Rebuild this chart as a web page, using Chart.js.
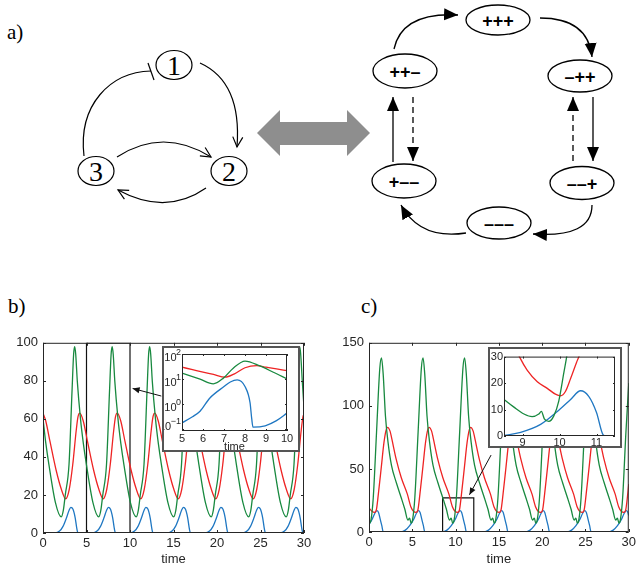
<!DOCTYPE html>
<html>
<head>
<meta charset="utf-8">
<script src="https://cdn.jsdelivr.net/npm/chart.js@4.4.1/dist/chart.umd.min.js"></script>
<style>
  body { margin: 0; background: #fff; }
  #page { position: relative; width: 639px; height: 567px; overflow: hidden; background: #fff; }
  #page > svg, #page > canvas { position: absolute; left: 0; top: 0; }
  .inset { position: absolute; box-sizing: border-box; border: 2px solid #555; background: #fff; }
  .inset canvas { position: absolute; left: 0; top: 0; }
</style>
</head>
<body>
<div id="page">
  <!-- panel a: network and state diagram -->
  <svg width="639" height="330" font-family="'Liberation Serif', 'Times New Roman', serif">
    <defs>
      <marker id="open" markerWidth="13" markerHeight="13" refX="11" refY="6" orient="auto" markerUnits="userSpaceOnUse">
        <path d="M1,1 L11,6 L1,11" fill="none" stroke="#000" stroke-width="1.2"/>
      </marker>
      <marker id="solid" markerWidth="15" markerHeight="13" refX="14" refY="6" orient="auto" markerUnits="userSpaceOnUse">
        <path d="M0,0 L14,6 L0,12 Z" fill="#000"/>
      </marker>
    </defs>
    <text x="7" y="39" font-size="21">a)</text>
    <text x="8" y="313" font-size="21">b)</text>
    <text x="361" y="313" font-size="21">c)</text>

    <g fill="none" stroke="#000" stroke-width="1.2">
      <ellipse cx="174" cy="65" rx="18" ry="14.5"/>
      <ellipse cx="229" cy="171" rx="18" ry="14.5"/>
      <ellipse cx="96" cy="171" rx="18" ry="14.5"/>
      <path d="M200,63 Q242,82 237,147" marker-end="url(#open)"/>
      <path d="M84,156 C78,105 110,72 151,71"/>
      <path d="M148,63 L154,80"/>
      <path d="M117,157 Q163,127 211,157" marker-end="url(#open)"/>
      <path d="M206,188 Q166,216 118,190" marker-end="url(#open)"/>
    </g>
    <g font-size="28" text-anchor="middle">
      <text x="174" y="74.5">1</text>
      <text x="229" y="180.5">2</text>
      <text x="96" y="180.5">3</text>
    </g>

    <polygon points="257,133 280,110 280,122 347,122 347,110 370,133 347,156 347,145 280,145 280,156" fill="#8e8e8e"/>

    <g fill="none" stroke="#000" stroke-width="1.3">
      <ellipse cx="498" cy="20" rx="32" ry="15"/>
      <ellipse cx="580" cy="76" rx="32" ry="16"/>
      <ellipse cx="582" cy="183" rx="32" ry="16.5"/>
      <ellipse cx="499" cy="223" rx="32" ry="16"/>
      <ellipse cx="404" cy="181" rx="32" ry="17"/>
      <ellipse cx="405" cy="71" rx="32" ry="17"/>
      <path d="M394,49 Q402,12 458,15" marker-end="url(#solid)"/>
      <path d="M540,18 Q588,18 592,57" marker-end="url(#solid)"/>
      <path d="M593,97 L593,161" marker-end="url(#solid)"/>
      <path d="M573,161 L573,97" stroke-dasharray="6,4" marker-end="url(#solid)"/>
      <path d="M592,205 Q592,238 533,234" marker-end="url(#solid)"/>
      <path d="M466,233 Q420,240 401,205" marker-end="url(#solid)"/>
      <path d="M393,162 L393,97" marker-end="url(#solid)"/>
      <path d="M413,97 L413,161" stroke-dasharray="6,4" marker-end="url(#solid)"/>
    </g>
    <g font-family="'Liberation Sans', Arial, sans-serif" font-size="18" font-weight="bold" text-anchor="middle">
      <text x="498" y="26.5">+++</text>
      <text x="580" y="82.5">–++</text>
      <text x="582" y="189.5">––+</text>
      <text x="499" y="229.5">–––</text>
      <text x="404" y="187.5">+––</text>
      <text x="405" y="77.5">++–</text>
    </g>
  </svg>

  <canvas id="chartB" width="320" height="237" style="left:0;top:330px"></canvas>
  <canvas id="chartC" width="317" height="237" style="left:322px;top:330px"></canvas>
  <div class="inset" style="left:162px;top:346px;width:138px;height:106px">
    <canvas id="insetB" width="134" height="102"></canvas>
  </div>
  <div class="inset" style="left:488px;top:347px;width:134px;height:101px">
    <canvas id="insetC" width="130" height="97"></canvas>
  </div>
</div>

<script>
// colours of the three variables
const GREEN = '#18893f';
const RED = '#ee2424';
const BLUE = '#1f77c2';

// panel b: [time, value] points
const bGreen = [[0,60],[0.33,47],[0.68,36],[1.43,16],[2.10,8.5],[2.34,12],[2.56,20],[2.99,36],[3.34,75],[3.52,94],[3.64,98],[3.76,94],[3.94,80],[4.31,60],[4.64,47],[4.99,36],[5.74,16],
  [6.41,8.5],[6.65,12],[6.87,20],[7.30,36],[7.65,75],[7.83,94],[7.95,98],[8.07,94],[8.25,80],[8.62,60],[8.95,47],[9.30,36],[10.05,16],
  [10.72,8.5],[10.96,12],[11.18,20],[11.61,36],[11.96,75],[12.14,94],[12.26,98],[12.38,94],[12.56,80],[12.93,60],[13.26,47],[13.61,36],[14.36,16],
  [15.03,8.5],[15.27,12],[15.49,20],[15.92,36],[16.27,75],[16.45,94],[16.57,98],[16.69,94],[16.87,80],[17.24,60],[17.57,47],[17.92,36],[18.67,16],
  [19.34,8.5],[19.58,12],[19.80,20],[20.23,36],[20.58,75],[20.76,94],[20.88,98],[21.00,94],[21.18,80],[21.55,60],[21.88,47],[22.23,36],[22.98,16],
  [23.65,8.5],[23.89,12],[24.11,20],[24.54,36],[24.89,75],[25.07,94],[25.19,98],[25.31,94],[25.49,80],[25.86,60],[26.19,47],[26.54,36],[27.29,16],
  [27.96,8.5],[28.20,12],[28.42,20],[28.85,36],[29.20,75],[29.38,94],[29.50,98],[29.62,94],[29.80,80],[30,66]];
const bRed = [[0,63],[0.31,59],[0.81,48],[1.51,33],[2.11,23],[2.61,18],[3.02,23],[3.42,36],[3.82,54],[4.02,61],[4.22,63],[4.62,59],[5.12,48],[5.82,33],[6.42,23],[6.92,18],
  [7.33,23],[7.73,36],[8.13,54],[8.33,61],[8.53,63],[8.93,59],[9.43,48],[10.13,33],[10.73,23],[11.23,18],
  [11.64,23],[12.04,36],[12.44,54],[12.64,61],[12.84,63],[13.24,59],[13.74,48],[14.44,33],[15.04,23],[15.54,18],
  [15.95,23],[16.35,36],[16.75,54],[16.95,61],[17.15,63],[17.55,59],[18.05,48],[18.75,33],[19.35,23],[19.85,18],
  [20.26,23],[20.66,36],[21.06,54],[21.26,61],[21.46,63],[21.86,59],[22.36,48],[23.06,33],[23.66,23],[24.16,18],
  [24.57,23],[24.97,36],[25.37,54],[25.57,61],[25.77,63],[26.17,59],[26.67,48],[27.37,33],[27.97,23],[28.47,18],
  [28.88,23],[29.28,36],[29.68,54],[29.88,61],[30,62.5]];
const bBlue = [[0,0],[1.4,0],[1.9,1],[2.3,3.5],[2.7,8],[3.0,12],[3.2,13.5],[3.45,12.5],[3.7,8],[3.9,2],[4.02,0],
  [5.71,0],[6.21,1],[6.61,3.5],[7.01,8],[7.31,12],[7.51,13.5],[7.76,12.5],[8.01,8],[8.21,2],[8.33,0],
  [10.02,0],[10.52,1],[10.92,3.5],[11.32,8],[11.62,12],[11.82,13.5],[12.07,12.5],[12.32,8],[12.52,2],[12.64,0],
  [14.33,0],[14.83,1],[15.23,3.5],[15.63,8],[15.93,12],[16.13,13.5],[16.38,12.5],[16.63,8],[16.83,2],[16.95,0],
  [18.64,0],[19.14,1],[19.54,3.5],[19.94,8],[20.24,12],[20.44,13.5],[20.69,12.5],[20.94,8],[21.14,2],[21.26,0],
  [22.95,0],[23.45,1],[23.85,3.5],[24.25,8],[24.55,12],[24.75,13.5],[25.0,12.5],[25.25,8],[25.45,2],[25.57,0],
  [27.26,0],[27.76,1],[28.16,3.5],[28.56,8],[28.86,12],[29.06,13.5],[29.31,12.5],[29.56,8],[29.76,2],[29.88,0],[30,0]];
const bZoomBox = [[5,0],[5,100],[10,100],[10,0],[5,0]];
const bArrow = { from: [13.6, 72], to: [10.3, 76] };
const bYTicks = [0, 20, 40, 60, 80, 100];

// panel b inset (log scale)
const bInsetGreen = [[5,17],[5.86,9.7],[6.49,6.3],[6.97,10.7],[7.44,27],[8.0,52],[8.71,33],[9.35,18.5],[10,10]];
const bInsetRed = [[5,29.5],[5.5,23.5],[6,18.7],[6.5,15],[7.05,11.7],[7.5,16],[8,28],[8.56,34],[9,29.5],[9.5,25],[10,21.5]];
const bInsetBlue = [[5,0.17],[5.5,0.3],[5.86,0.5],[6.33,1.7],[7,4.9],[7.3,7.5],[7.63,9.1],[8,4.9],[8.24,1.1],[8.32,0.25],[8.38,0.115],[8.96,0.13],[9.5,0.21],[10,0.42]];
const bInsetYTicks = [0.1, 1, 10, 100];

// panel c
const cGreen = [[0,8],[0.06,7],[0.24,10],[0.49,27],[0.87,79],[1.25,130],[1.44,138],[1.64,125],[1.9,92],[2.2,71],[2.59,53],[3.16,39],[3.73,27],[4.14,18],
  [4.49,9.5],[4.69,11],[4.86,7],[5.04,10],[5.29,27],[5.67,79],[6.05,130],[6.24,138],[6.44,125],[6.70,92],[7.0,71],[7.39,53],[7.96,39],[8.53,27],[8.94,18],
  [9.29,9.5],[9.49,11],[9.66,7],[9.84,10],[10.09,27],[10.47,79],[10.85,130],[11.04,138],[11.24,125],[11.5,92],[11.8,71],[12.19,53],[12.76,39],[13.33,27],[13.74,18],
  [14.09,9.5],[14.29,11],[14.46,7],[14.64,10],[14.89,27],[15.27,79],[15.65,130],[15.84,138],[16.04,125],[16.3,92],[16.6,71],[16.99,53],[17.56,39],[18.13,27],[18.54,18],
  [18.89,9.5],[19.09,11],[19.26,7],[19.44,10],[19.69,27],[20.07,79],[20.45,130],[20.64,138],[20.84,125],[21.1,92],[21.4,71],[21.79,53],[22.36,39],[22.93,27],[23.34,18],
  [23.69,9.5],[23.89,11],[24.06,7],[24.24,10],[24.49,27],[24.87,79],[25.25,130],[25.44,138],[25.64,125],[25.9,92],[26.2,71],[26.59,53],[27.16,39],[27.73,27],[28.14,18],
  [28.49,9.5],[28.69,11],[28.86,7],[29.04,10],[29.29,27],[29.67,79],[30,118]];
const cRed = [[0,19],[0.33,16.5],[0.63,15.5],[0.83,17],[1.08,30],[1.43,52],[1.73,71],[1.98,81],[2.13,83],[2.43,80],[2.63,74],[3.13,58],[3.73,43],[4.43,30],[4.83,20],[5.13,16.5],
  [5.43,15.5],[5.63,17],[5.88,30],[6.23,52],[6.53,71],[6.78,81],[6.93,83],[7.23,80],[7.43,74],[7.93,58],[8.53,43],[9.23,30],[9.63,20],[9.93,16.5],
  [10.23,15.5],[10.43,17],[10.68,30],[11.03,52],[11.33,71],[11.58,81],[11.73,83],[12.03,80],[12.23,74],[12.73,58],[13.33,43],[14.03,30],[14.43,20],[14.73,16.5],
  [15.03,15.5],[15.23,17],[15.48,30],[15.83,52],[16.13,71],[16.38,81],[16.53,83],[16.83,80],[17.03,74],[17.53,58],[18.13,43],[18.83,30],[19.23,20],[19.53,16.5],
  [19.83,15.5],[20.03,17],[20.28,30],[20.63,52],[20.93,71],[21.18,81],[21.33,83],[21.63,80],[21.83,74],[22.33,58],[22.93,43],[23.63,30],[24.03,20],[24.33,16.5],
  [24.63,15.5],[24.83,17],[25.08,30],[25.43,52],[25.73,71],[25.98,81],[26.13,83],[26.43,80],[26.63,74],[27.13,58],[27.73,43],[28.43,30],[28.83,20],[29.13,16.5],
  [29.43,15.5],[29.63,17],[29.88,30],[30,38]];
const cBlue = [[0,6],[0.35,10],[0.65,14.5],[0.9,17],[1.1,15.5],[1.3,10],[1.48,5],[1.65,0],
  [3.7,0],[4.2,1.5],[4.7,5],[5.15,10],[5.45,14.5],[5.7,17],[5.9,15.5],[6.1,10],[6.28,5],[6.45,0],
  [8.5,0],[9.0,1.5],[9.5,5],[9.95,10],[10.25,14.5],[10.5,17],[10.7,15.5],[10.9,10],[11.08,5],[11.25,0],
  [13.3,0],[13.8,1.5],[14.3,5],[14.75,10],[15.05,14.5],[15.3,17],[15.5,15.5],[15.7,10],[15.88,5],[16.05,0],
  [18.1,0],[18.6,1.5],[19.1,5],[19.55,10],[19.85,14.5],[20.1,17],[20.3,15.5],[20.5,10],[20.68,5],[20.85,0],
  [22.9,0],[23.4,1.5],[23.9,5],[24.35,10],[24.65,14.5],[24.9,17],[25.1,15.5],[25.3,10],[25.48,5],[25.65,0],
  [27.7,0],[28.2,1.5],[28.7,5],[29.15,10],[29.45,14.5],[29.7,17],[29.9,15.5],[30,13]];
const cZoomBox = [[8.5,0],[8.5,27],[12.1,27],[12.1,0],[8.5,0]];
const cArrow = { from: [14.1, 61], to: [11.6, 29.5] };
const cYTicks = [0, 50, 100, 150];

// panel c inset
const cInsetGreen = [[8.5,13.8],[8.76,11],[9.04,8.3],[9.26,7.3],[9.44,8.3],[9.51,9.3],[9.59,6.5],[9.71,5.5],[9.85,7.7],[9.98,13.2],[10.12,24.1],[10.19,29.6],[10.3,40]];
const cInsetRed = [[8.6,40],[8.93,29.6],[9.13,24.8],[9.4,20.5],[9.67,18],[9.89,15.8],[10.03,15.2],[10.16,16.8],[10.3,21.7],[10.46,27.8],[10.55,31],[10.7,40]];
const cInsetBlue = [[8.5,0.2],[8.95,1.4],[9.49,4.4],[10.01,10.1],[10.3,13.8],[10.57,17.1],[10.79,15],[11.0,8.9],[11.18,0.4],[11.25,0],[11.5,0]];
const cInsetXTicks = [9, 10, 11];

Chart.defaults.font.family = '"Liberation Sans", Arial, Helvetica, sans-serif';
Chart.defaults.color = '#262626';

function pts(a) { return a.map(p => ({ x: p[0], y: p[1] })); }
function curve(a, color) {
  return { data: pts(a), borderColor: color, borderWidth: 1.3, pointRadius: 0, cubicInterpolationMode: 'monotone', fill: false };
}
function box(a) {
  return { data: pts(a), borderColor: '#111', borderWidth: 1.2, pointRadius: 0, tension: 0, fill: false };
}

// axes box with small inward ticks on all four sides
const framePlugin = {
  id: 'frame',
  afterDatasetsDraw(chart, args, opts) {
    const { ctx, chartArea: a, scales } = chart;
    const L = opts.tick || 3;
    ctx.save();
    ctx.strokeStyle = '#262626';
    ctx.lineWidth = 1;
    ctx.strokeRect(a.left + 0.5, a.top + 0.5, a.right - a.left - 1, a.bottom - a.top - 1);
    ctx.beginPath();
    scales.x.ticks.forEach(t => {
      const px = Math.round(scales.x.getPixelForValue(t.value)) + 0.5;
      ctx.moveTo(px, a.bottom); ctx.lineTo(px, a.bottom - L);
      ctx.moveTo(px, a.top); ctx.lineTo(px, a.top + L);
    });
    scales.y.ticks.forEach(t => {
      const py = Math.round(scales.y.getPixelForValue(t.value)) + 0.5;
      ctx.moveTo(a.left, py); ctx.lineTo(a.left + L, py);
      ctx.moveTo(a.right, py); ctx.lineTo(a.right - L, py);
    });
    ctx.stroke();
    ctx.restore();
  }
};

// arrow pointing from the inset to the zoomed region
const arrowPlugin = {
  id: 'arrow',
  afterDatasetsDraw(chart, args, opts) {
    if (!opts.from) return;
    const { ctx, scales: { x, y } } = chart;
    const x0 = x.getPixelForValue(opts.from[0]), y0 = y.getPixelForValue(opts.from[1]);
    const x1 = x.getPixelForValue(opts.to[0]), y1 = y.getPixelForValue(opts.to[1]);
    const ang = Math.atan2(y1 - y0, x1 - x0);
    ctx.save();
    ctx.strokeStyle = '#111'; ctx.fillStyle = '#111'; ctx.lineWidth = 1;
    ctx.beginPath(); ctx.moveTo(x0, y0); ctx.lineTo(x1, y1); ctx.stroke();
    ctx.beginPath();
    ctx.moveTo(x1, y1);
    ctx.lineTo(x1 - 7 * Math.cos(ang) + 3 * Math.sin(ang), y1 - 7 * Math.sin(ang) - 3 * Math.cos(ang));
    ctx.lineTo(x1 - 7 * Math.cos(ang) - 3 * Math.sin(ang), y1 - 7 * Math.sin(ang) + 3 * Math.cos(ang));
    ctx.closePath(); ctx.fill();
    ctx.restore();
  }
};

// 10^k labels for the log axis of inset b
const logLabelPlugin = {
  id: 'logLabels',
  afterDraw(chart) {
    const { ctx, chartArea: a, scales: { y } } = chart;
    const right = a.left - 1;
    ctx.save();
    ctx.fillStyle = '#262626';
    ctx.textBaseline = 'middle';
    bInsetYTicks.forEach(v => {
      const py = y.getPixelForValue(v);
      const e = String(Math.round(Math.log10(v))).replace('-', '\u2212');
      ctx.font = '9px "Liberation Sans", Arial, sans-serif';
      const ew = ctx.measureText(e).width;
      const base = Math.min(py + 4, a.bottom - 4);
      ctx.textAlign = 'left';
      ctx.fillText(e, right - ew, base - 5.5);
      ctx.font = '11px "Liberation Sans", Arial, sans-serif';
      ctx.textAlign = 'right';
      ctx.fillText('10', right - ew + 0.5, base);
    });
    ctx.restore();
  }
};

function makeChart(id, cfg) {
  return new Chart(document.getElementById(id), {
    type: 'line',
    data: { datasets: cfg.datasets },
    options: {
      responsive: false,
      animation: false,
      events: [],
      layout: { padding: cfg.padding },
      plugins: {
        legend: { display: false },
        tooltip: { enabled: false },
        frame: { tick: cfg.tick },
        arrow: cfg.arrow || {}
      },
      scales: {
        x: {
          type: 'linear', min: cfg.xMin, max: cfg.xMax,
          grid: { display: false, drawTicks: false },
          border: { display: false },
          ticks: { stepSize: cfg.xStep, font: { size: cfg.font }, padding: cfg.xPad, maxRotation: 0, autoSkip: false },
          afterBuildTicks: cfg.xTicks ? s => { s.ticks = cfg.xTicks.map(v => ({ value: v })); } : undefined,
          title: { display: !!cfg.xTitle, text: cfg.xTitle, font: { size: cfg.font }, padding: { top: 0, bottom: cfg.titlePad } },
          afterFit: s => { s.height = cfg.xH; }
        },
        y: {
          type: cfg.yType || 'linear', min: cfg.yMin, max: cfg.yMax,
          grid: { display: false, drawTicks: false },
          border: { display: false },
          ticks: { display: !cfg.yHideLabels, font: { size: cfg.font }, padding: cfg.yPad, autoSkip: false },
          afterBuildTicks: s => { s.ticks = cfg.yTicks.map(v => ({ value: v })); },
          afterFit: s => { s.width = cfg.yW; }
        }
      }
    },
    plugins: [framePlugin, arrowPlugin].concat(cfg.extra || [])
  });
}

makeChart('chartB', {
  datasets: [curve(bGreen, GREEN), curve(bRed, RED), curve(bBlue, BLUE), box(bZoomBox)],
  padding: { top: 8, right: 16, left: 0, bottom: 0 },
  xMin: 0, xMax: 30, xStep: 5, xH: 34, xPad: 3, xTitle: 'time', titlePad: 0,
  yMin: 0, yMax: 100, yTicks: bYTicks, yW: 43, yPad: 5,
  font: 13, tick: 3, arrow: bArrow
});

makeChart('chartC', {
  datasets: [curve(cGreen, GREEN), curve(cRed, RED), curve(cBlue, BLUE), box(cZoomBox)],
  padding: { top: 8, right: 7, left: 0, bottom: 0 },
  xMin: 0, xMax: 30, xStep: 5, xH: 35, xPad: 3, xTitle: 'time', titlePad: 0,
  yMin: 0, yMax: 150, yTicks: cYTicks, yW: 47, yPad: 5,
  font: 13, tick: 3, arrow: cArrow
});

makeChart('insetB', {
  datasets: [curve(bInsetGreen, GREEN), curve(bInsetRed, RED), curve(bInsetBlue, BLUE)],
  padding: { top: 6, right: 11, left: 0, bottom: 0 },
  xMin: 5, xMax: 10, xStep: 1, xH: 19, xPad: 1, xTitle: 'time', titlePad: -4,
  yType: 'logarithmic', yMin: 0.08, yMax: 100, yTicks: bInsetYTicks, yW: 18, yPad: 2, yHideLabels: true,
  font: 11, tick: 2, extra: [logLabelPlugin]
});

makeChart('insetC', {
  datasets: [curve(cInsetGreen, GREEN), curve(cInsetRed, RED), curve(cInsetBlue, BLUE)],
  padding: { top: 6, right: 5, left: 0, bottom: 0 },
  xMin: 8.5, xMax: 11.5, xTicks: cInsetXTicks, xH: 10, xPad: 0,
  yMin: 0, yMax: 30, yTicks: [0, 10, 20, 30], yW: 14, yPad: 1,
  font: 11, tick: 2
});
</script>
</body>
</html>
